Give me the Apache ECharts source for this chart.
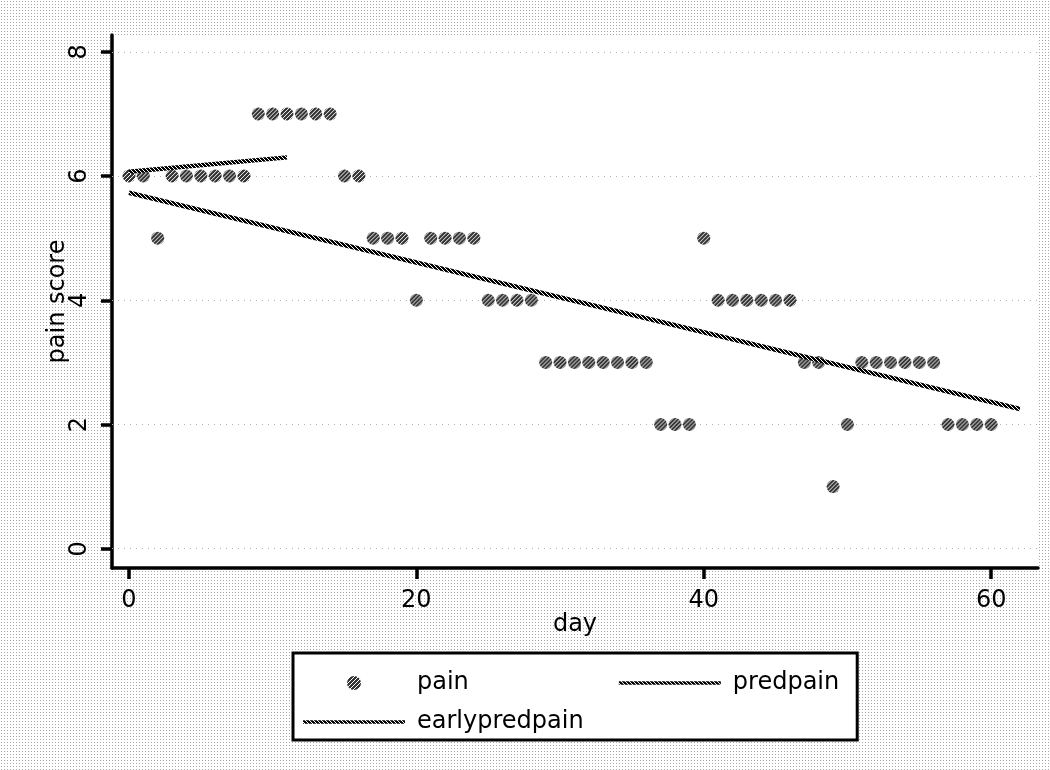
<!DOCTYPE html>
<html>
<head>
<meta charset="utf-8">
<script src="https://cdn.jsdelivr.net/npm/echarts@6/dist/echarts.min.js"></script>
<style>
html,body{margin:0;padding:0;width:1050px;height:770px;overflow:hidden;background:#fff;}
#chart{width:1050px;height:770px;}
</style>
</head>
<body>
<div id="chart"></div>
<script>
// ---- data ----
const days = [0,1,2,3,4,5,6,7,8,9,10,11,12,13,14,15,16,17,18,19,20,21,22,23,24,25,26,27,28,29,30,31,32,33,34,35,36,37,38,39,40,41,42,43,44,45,46,47,48,49,50,51,52,53,54,55,56,57,58,59,60];
const pain = [6,6,5,6,6,6,6,6,6,7,7,7,7,7,7,6,6,5,5,5,4,5,5,5,5,4,4,4,4,3,3,3,3,3,3,3,3,2,2,2,5,4,4,4,4,4,4,3,3,1,2,3,3,3,3,3,3,2,2,2,2];
const predDays = [0, 62];
const predPain = [5.73, 2.25];
const earlyDays = [0, 11];
const earlyPredPain = [6.07, 6.30];
const xTicks = [0, 20, 40, 60];
const yTicks = [0, 2, 4, 6, 8];
const seriesNames = ['pain', 'predpain', 'earlypredpain'];

// ---- patterns ----
function makeCanvas(w, h, draw) {
  const c = document.createElement('canvas');
  c.width = w; c.height = h;
  draw(c.getContext('2d'));
  return c;
}
const bgCanvas = makeCanvas(3, 3, ctx => {
  ctx.fillStyle = '#ffffff'; ctx.fillRect(0, 0, 3, 3);
  ctx.fillStyle = '#a8a8a8'; ctx.fillRect(1, 1, 1, 1);
});
document.getElementById('chart').style.backgroundImage = 'url(' + bgCanvas.toDataURL() + ')';

const stripeCanvas = makeCanvas(4, 4, ctx => {
  ctx.fillStyle = '#ffffff'; ctx.fillRect(0, 0, 4, 4);
  ctx.fillStyle = '#000000';
  for (let i = 0; i < 4; i++) {
    ctx.fillRect(i, (4 - i) % 4, 1, 1);
    ctx.fillRect(i, (5 - i) % 4, 1, 1);
    ctx.fillRect(i, (6 - i) % 4, 1, 1);
  }
});
const markerSize = 13;
const stripeScaled = { image: stripeCanvas, repeat: 'repeat', scaleX: 2 / markerSize, scaleY: 2 / markerSize };
const stripe = { image: stripeCanvas, repeat: 'repeat' };

const lineTexCanvas = makeCanvas(4, 4, ctx => {
  ctx.fillStyle = '#ffffff'; ctx.fillRect(0, 0, 4, 4);
  ctx.fillStyle = '#000000';
  for (let i = 0; i < 4; i++) {
    ctx.fillRect(i, i, 1, 1);
    ctx.fillRect(i, (i + 1) % 4, 1, 1);
    ctx.fillRect(i, (i + 2) % 4, 1, 1);
  }
});
const lineTex = { image: lineTexCanvas, repeat: 'repeat' };

const font = 'DejaVu Sans';
const fs = 24;
const chart = echarts.init(document.getElementById('chart'), null, { renderer: 'canvas' });

const lineStyleTex = { color: lineTex, width: 4.5 };
const circleIcon = 'path://M0,7L0.01,7L0.01,7.01Z M101.99,7L102,7L102,7.01Z M51,0A7,7,0,1,1,51,14A7,7,0,1,1,51,0Z';
const lineIcon = 'path://M0,0L102,0L102,3.5L0,3.5Z';

chart.setOption({
  backgroundColor: 'transparent',
  animation: false,
  textStyle: { fontFamily: font, color: '#000' },
  grid: {
    left: 112, top: 35, right: 12, bottom: 202,
    show: true, backgroundColor: '#fff', borderWidth: 0
  },
  xAxis: {
    type: 'value', min: -1.18, max: 63.26,
    name: 'day', nameLocation: 'middle', nameGap: 45, nameMoveOverlap: false,
    nameTextStyle: { fontFamily: font, fontSize: fs, color: '#000' },
    axisLine: { show: true, onZero: false, lineStyle: { color: '#000', width: 3.5 } },
    axisTick: { show: true, length: 11, lineStyle: { color: '#000', width: 3.5 }, customValues: xTicks },
    axisLabel: { fontFamily: font, fontSize: fs, color: '#000', margin: 21, customValues: xTicks },
    splitLine: { show: false }
  },
  yAxis: {
    type: 'value', min: -0.31, max: 8.27,
    name: 'pain score', nameLocation: 'middle', nameGap: 42, nameMoveOverlap: false,
    nameTextStyle: { fontFamily: font, fontSize: fs, color: '#000' },
    axisLine: { show: true, onZero: false, lineStyle: { color: '#000', width: 3.5 } },
    axisTick: { show: true, length: 11, lineStyle: { color: '#000', width: 3.5 }, customValues: yTicks },
    axisLabel: { fontFamily: font, fontSize: fs, color: '#000', margin: 20, rotate: 90, customValues: yTicks },
    splitLine: { show: false }
  },
  legend: [
    {
      data: [
        { name: seriesNames[0], icon: circleIcon, itemStyle: { color: stripe, borderWidth: 0 } },
        { name: seriesNames[1], icon: lineIcon, itemStyle: { color: lineTex, borderWidth: 0 } }
      ],
      left: 293, top: 653,
      padding: [17, 18, 44, 10],
      itemGap: 150,
      itemWidth: 102, itemHeight: 14,
      backgroundColor: '#fff', borderColor: '#000', borderWidth: 3, borderRadius: 0,
      textStyle: { fontFamily: font, fontSize: fs, color: '#000', padding: [0, 0, 0, 7], lineHeight: 26 },
      selectedMode: false
    },
    {
      data: [
        { name: seriesNames[2], icon: lineIcon, itemStyle: { color: lineTex, borderWidth: 0 } }
      ],
      left: 293, top: 709,
      padding: [0, 0, 0, 10],
      itemWidth: 102, itemHeight: 14,
      z: 6,
      textStyle: { fontFamily: font, fontSize: fs, color: '#000', padding: [0, 0, 0, 7], lineHeight: 26 },
      selectedMode: false
    }
  ],
  series: [
    {
      name: seriesNames[0], type: 'scatter',
      data: days.map((d, i) => [d, pain[i]]),
      symbol: 'circle', symbolSize: markerSize,
      itemStyle: { color: stripeScaled, borderWidth: 0 },
      z: 3,
      markLine: {
        silent: true, symbol: 'none', label: { show: false },
        lineStyle: { color: '#b0b0b0', type: [1, 5], width: 1.2 },
        z: 1,
        data: yTicks.map(v => ({ yAxis: v }))
      }
    },
    {
      name: seriesNames[1], type: 'line',
      data: predDays.map((d, i) => [d, predPain[i]]),
      symbol: 'none', lineStyle: lineStyleTex, itemStyle: { color: '#000' }, z: 4
    },
    {
      name: seriesNames[2], type: 'line',
      data: earlyDays.map((d, i) => [d, earlyPredPain[i]]),
      symbol: 'none', lineStyle: lineStyleTex, itemStyle: { color: '#000' }, z: 4
    }
  ]
});
</script>
</body>
</html>
